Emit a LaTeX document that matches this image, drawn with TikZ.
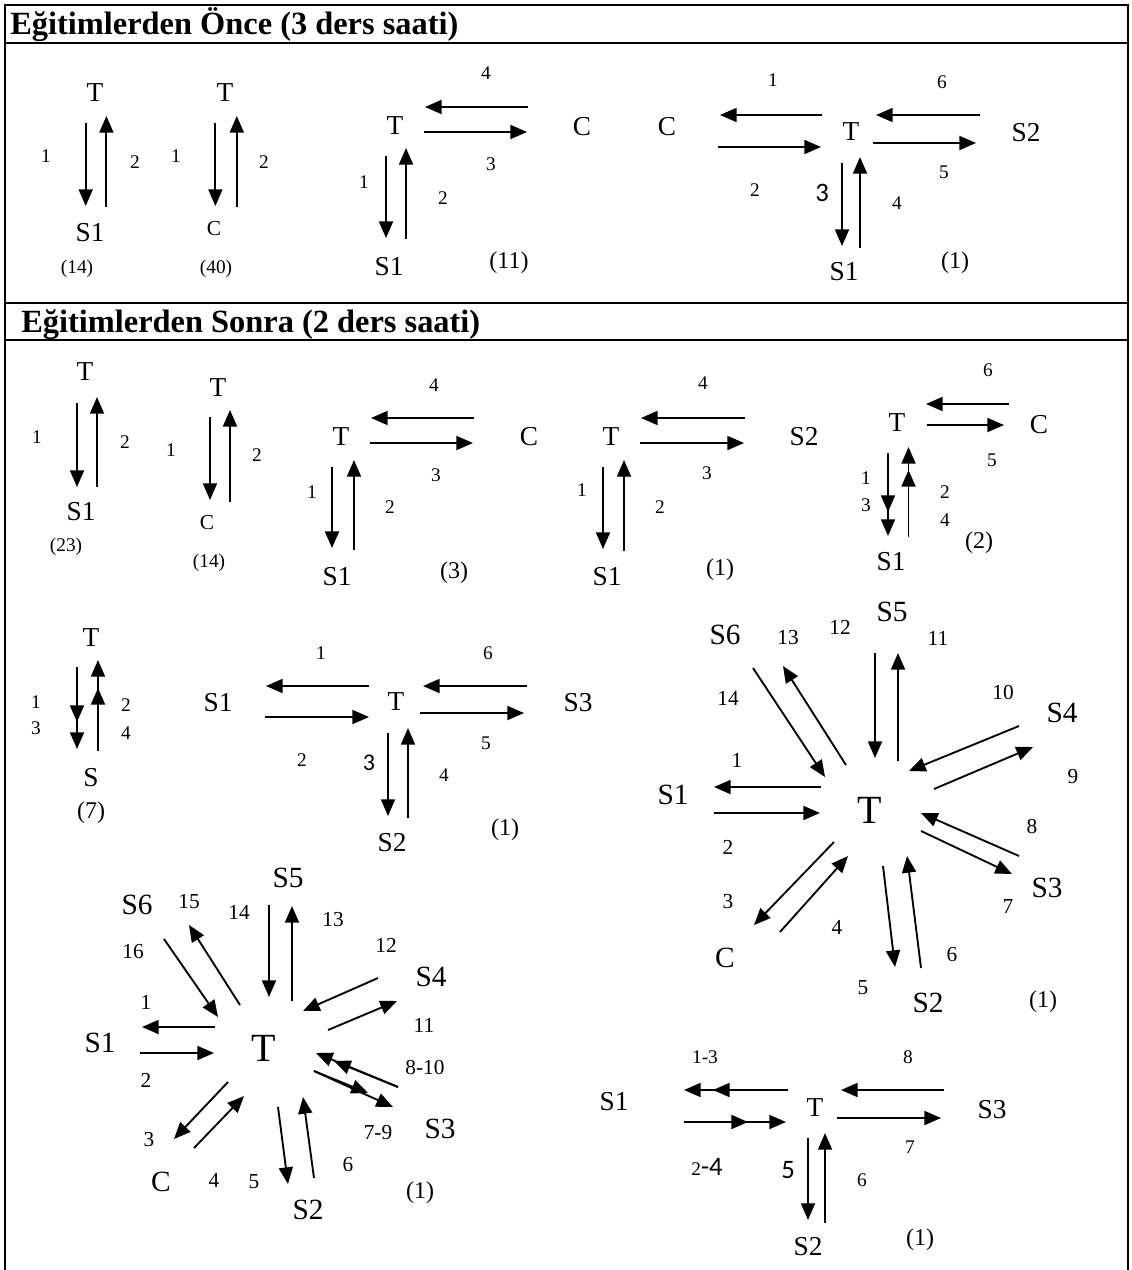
\documentclass[tikz,border=0pt]{standalone}
\usepackage{fontspec}
\setmainfont{Liberation Serif}
\newfontfamily\sansdig{Carlito}
\usetikzlibrary{arrows.meta}
\newcommand\myarr[3]{\coordinate (#1a) at (#2); \coordinate (#1b) at (#3); \draw[arr] (#1a) -- (#1b);}
\newcommand\myarrr[4]{\coordinate (#1a) at (#2); \coordinate (#1m) at (#3); \coordinate (#1b) at (#4); \draw[arr] (#1a) -- (#1m); \draw[arr] (#1a) -- (#1b);}
\begin{document}
\begin{tikzpicture}[x=0.75pt,y=-0.75pt,
  lbl/.style={inner sep=0pt,font=\fontsize{20.5}{20.5}\selectfont},
  slbl/.style={inner sep=0pt,font=\fontsize{22}{22}\selectfont},
  bigT/.style={inner sep=0pt,font=\fontsize{30}{30}\selectfont},
  smallC/.style={inner sep=0pt,font=\fontsize{16}{16}\selectfont},
  num/.style={inner sep=0pt,font=\fontsize{14.5}{14.5}\selectfont},
  snum/.style={inner sep=0pt,font=\fontsize{16}{16}\selectfont},
  cnt/.style={inner sep=0pt,font=\fontsize{14.5}{14.5}\selectfont},
  bcnt/.style={inner sep=0pt,font=\fontsize{18}{18}\selectfont},
  sdig/.style={inner sep=0pt,font=\sansdig\fontsize{20}{20}\selectfont},
  ttl/.style={inner sep=0pt,anchor=base west,font=\bfseries\fontsize{24.3}{24.3}\selectfont},
  arr/.style={-{Triangle[width=10.5pt,length=12.5pt]},line width=1.4pt},
  tbl/.style={line width=1.8pt}]
\useasboundingbox (0,0) rectangle (1131,1270);
% table
\draw[tbl] (5,1270) -- (5,5) -- (1128,5) -- (1128,1270);
\draw[tbl] (5,43) -- (1128,43);
\draw[tbl] (5,303) -- (1128,303);
\draw[tbl] (5,340) -- (1128,340);
\node[ttl] (t1) at (10,35) {Eğitimlerden Önce (3 ders saati)};
\node[ttl] (t2) at (21,332) {Eğitimlerden Sonra (2 ders saati)};

% ===== Section 1 =====
% A
\node[lbl] (aT) at (95,93) {T};
\node[lbl] (aS) at (90,233) {S1};
\node[num] (a1) at (46,156) {1};
\node[num] (a2) at (135,162) {2};
\node[cnt] (ac) at (77,269) {(14)};
\myarr{A1}{85.7,123}{85.7,206}
\myarr{A2}{106.4,207}{106.4,116}
% B
\node[lbl] (bT) at (225,93) {T};
\node[smallC] (bC) at (214,229) {C};
\node[num] (b1) at (176,156) {1};
\node[num] (b2) at (264,162) {2};
\node[cnt] (bc) at (216,269) {(40)};
\myarr{B1}{215.4,123}{215.4,206}
\myarr{B2}{236.8,207}{236.8,116}
% C
\node[lbl] (cT) at (395,126) {T};
\node[lbl] (cC) at (582,127) {C};
\node[num] (c4) at (486,73) {4};
\node[num] (c3) at (491,164) {3};
\node[num] (c1) at (364,182) {1};
\node[num] (c2) at (443,198) {2};
\node[lbl] (cS) at (389,267) {S1};
\node[bcnt] (cc) at (509,263) {(11)};
\myarr{C1}{528,107}{425,107}
\myarr{C2}{424,132}{527,132}
\myarr{C3}{386,156}{386,238}
\myarr{C4}{406,239}{406,148}
% D
\node[lbl] (dC) at (667,127) {C};
\node[num] (d1) at (773,80) {1};
\node[num] (d2) at (755,190) {2};
\node[lbl] (dT) at (851,132) {T};
\node[num] (d6) at (942,82) {6};
\node[num] (d5) at (944,172) {5};
\node[lbl] (dS2) at (1026,133) {S2};
\node[sdig] (d3) at (822,193) {3};
\node[num] (d4) at (897,203) {4};
\node[lbl] (dS1) at (844,272) {S1};
\node[bcnt] (dc) at (955,263) {(1)};
\myarr{D1}{822,115}{720,115}
\myarr{D2}{718,147}{821,147}
\myarr{D3}{842,163}{842,246}
\myarr{D4}{860,248}{860,157}
\myarr{D5}{873,143}{976,143}
\myarr{D6}{980,115}{876,115}

% ===== Section 2 =====
% E
\node[lbl] (eT) at (85,372) {T};
\node[lbl] (eS) at (81,512) {S1};
\node[num] (e1) at (37,437) {1};
\node[num] (e2) at (125,442) {2};
\node[cnt] (ec) at (66,547) {(23)};
\myarr{E1}{77,403}{77,487}
\myarr{E2}{97,487}{97,397}
% F
\node[lbl] (fT) at (218,388) {T};
\node[smallC] (fC) at (207,523) {C};
\node[num] (f1) at (171,450) {1};
\node[num] (f2) at (257,455) {2};
\node[cnt] (fc) at (209,563) {(14)};
\myarr{F1}{210,417}{210,500}
\myarr{F2}{230,502}{230,410}
% G
\node[lbl] (gT) at (341,437) {T};
\node[num] (g4) at (434,385) {4};
\node[num] (g3) at (436,475) {3};
\node[lbl] (gC) at (529,437) {C};
\node[num] (g1) at (312,492) {1};
\node[num] (g2) at (390,507) {2};
\node[lbl] (gS) at (337,577) {S1};
\node[bcnt] (gc) at (454,573) {(3)};
\myarr{G4}{474,418}{371,418}
\myarr{G3}{370,443}{473,443}
\myarr{G1}{332,467}{332,548}
\myarr{G2}{354,550}{354,460}
% H
\node[lbl] (hT) at (611,437) {T};
\node[num] (h4) at (703,383) {4};
\node[num] (h3) at (707,473) {3};
\node[lbl] (hS2) at (804,437) {S2};
\node[num] (h1) at (582,490) {1};
\node[num] (h2) at (660,507) {2};
\node[lbl] (hS1) at (607,577) {S1};
\node[bcnt] (hc) at (720,570) {(1)};
\myarr{H4}{745,418}{641,418}
\myarr{H3}{640,443}{744,443}
\myarr{H1}{603,467}{603,549}
\myarr{H2}{624,551}{624,460}
% I
\node[lbl] (iT) at (897,423) {T};
\node[num] (i6) at (988,370) {6};
\node[lbl] (iC) at (1039,425) {C};
\node[num] (i5) at (992,460) {5};
\node[num] (i1) at (866,478) {1};
\node[num] (i3) at (866,505) {3};
\node[num] (i2) at (945,492) {2};
\node[num] (i4) at (945,520) {4};
\node[lbl] (iS) at (891,562) {S1};
\node[bcnt] (ic) at (979,543) {(2)};
\myarr{I6}{1009,404}{926,404}
\myarr{I5}{927,425}{1004,425}
\myarrr{I13}{888,453}{888,512}{888,536}
\myarrr{I24}{908.5,537}{908.5,470}{908.5,447}
% J
\node[lbl] (jT) at (91,638) {T};
\node[num] (j1) at (36,702) {1};
\node[num] (j3) at (36,728) {3};
\node[num] (j2) at (126,705) {2};
\node[num] (j4) at (126,733) {4};
\node[lbl] (jS) at (91,778) {S};
\node[bcnt] (jc) at (91,813) {(7)};
\myarrr{J13}{77,667}{77,722}{77,749}
\myarrr{J24}{98,751}{98,688}{98,660}
% K
\node[lbl] (kS1) at (218,703) {S1};
\node[num] (k1) at (321,653) {1};
\node[num] (k2) at (302,760) {2};
\node[lbl] (kT) at (396,702) {T};
\node[num] (k6) at (488,653) {6};
\node[num] (k5) at (486,743) {5};
\node[lbl] (kS3) at (578,703) {S3};
\node[sdig,font=\sansdig\fontsize{18}{18}\selectfont] (k3) at (369,763) {3};
\node[num] (k4) at (444,775) {4};
\node[lbl] (kS2) at (392,843) {S2};
\node[bcnt] (kc) at (505,830) {(1)};
\myarr{K1}{369,686}{266,686}
\myarr{K2}{265,717}{369,717}
\myarr{K6}{527,686}{423,686}
\myarr{K5}{420,713}{524,713}
\myarr{K3}{388,733}{388,816}
\myarr{K4}{408,818}{408,728}
% L (star, right)
\node[bigT] (lT) at (870,810) {T};
\node[slbl] (lS5) at (892,612) {S5};
\node[slbl] (lS6) at (725,635) {S6};
\node[snum] (l13) at (788,638) {13};
\node[snum] (l12) at (840,627) {12};
\node[snum] (l11) at (938,638) {11};
\node[snum] (l10) at (1003,693) {10};
\node[slbl] (lS4) at (1062,713) {S4};
\node[snum] (l9) at (1073,777) {9};
\node[snum] (l14) at (728,698) {14};
\node[snum] (l1) at (737,760) {1};
\node[slbl] (lS1) at (673,795) {S1};
\node[snum] (l2) at (728,847) {2};
\node[snum] (l8) at (1032,827) {8};
\node[slbl] (lS3) at (1047,888) {S3};
\node[snum] (l7) at (1008,907) {7};
\node[snum] (l3) at (728,902) {3};
\node[snum] (l4) at (837,927) {4};
\node[slbl] (lC) at (725,958) {C};
\node[snum] (l6) at (952,955) {6};
\node[snum] (l5) at (863,988) {5};
\node[slbl] (lS2) at (928,1003) {S2};
\node[bcnt] (lc) at (1043,1002) {(1)};
\myarr{L14}{753,668}{825,777}
\myarr{L13}{846,765}{783,666}
\myarr{L12}{875,653}{875,758}
\myarr{L11}{898,761}{898,653}
\myarr{L10}{1019,726}{909,771}
\myarr{L9}{934,789}{1033,747}
\myarr{L1}{821,787}{714,787}
\myarr{L2}{714,813}{820,813}
\myarr{L8}{1019,856}{921,813}
\myarr{L7}{921,831}{1012,874}
\myarr{L3}{834,842}{754,925}
\myarr{L4}{780,932}{848,856}
\myarr{L5}{883,866}{895,967}
\myarr{L6}{921,968}{907,856}
% M (star, left)
\node[bigT] (mT) at (264,1048) {T};
\node[slbl] (mS5) at (288,878) {S5};
\node[slbl] (mS6) at (137,905) {S6};
\node[snum] (m15) at (189,902) {15};
\node[snum] (m14) at (239,912) {14};
\node[snum] (m13) at (333,920) {13};
\node[snum] (m12) at (386,945) {12};
\node[snum] (m16) at (133,952) {16};
\node[slbl] (mS4) at (431,977) {S4};
\node[snum] (m11) at (424,1025) {11};
\node[snum] (m1) at (146,1002) {1};
\node[slbl] (mS1) at (100,1043) {S1};
\node[snum] (m2) at (146,1080) {2};
\node[snum] (m810) at (425,1067) {8-10};
\node[snum] (m79) at (378,1133) {7-9};
\node[slbl] (mS3) at (440,1129) {S3};
\node[snum] (m3) at (149,1140) {3};
\node[snum] (m6) at (348,1165) {6};
\node[slbl] (mC) at (161,1182) {C};
\node[snum] (m4) at (214,1180) {4};
\node[snum] (m5) at (254,1182) {5};
\node[bcnt] (mc) at (420,1193) {(1)};
\node[slbl] (mS2) at (308,1210) {S2};
\myarr{M16}{164,939}{218,1017}
\myarr{M15}{240,1005}{189,925}
\myarr{M14}{269,905}{269,997}
\myarr{M13}{292,1001}{292,906}
\myarr{M12}{378,978}{303,1011}
\myarr{M11}{328,1030}{397,1001}
\myarr{M1}{215,1027}{142,1027}
\myarr{M2}{140,1053}{214,1053}
\myarrr{M810}{398,1087}{334,1061}{316,1053}
\myarrr{M79}{314,1071}{368,1093}{393,1107}
\myarr{M3}{228,1082}{174,1139}
\myarr{M4}{194,1148}{244,1096}
\myarr{M5}{278,1107}{288,1184}
\myarr{M6}{314,1178}{303,1097}
% N
\node[lbl] (nS1) at (614,1102) {S1};
\node[num] (n13) at (705,1057) {1-3};
\node[inner sep=0pt] (n24) at (707,1167) {{\fontsize{14.5}{14.5}\selectfont 2}{\sansdig\fontsize{20}{20}\selectfont -4}};
\node[lbl] (nT) at (815,1108) {T};
\node[num] (n8) at (908,1057) {8};
\node[lbl] (nS3) at (992,1110) {S3};
\node[num] (n7) at (910,1147) {7};
\node[sdig] (n5) at (788,1170) {5};
\node[num] (n6) at (862,1180) {6};
\node[lbl] (nS2) at (808,1247) {S2};
\node[bcnt] (nc) at (920,1240) {(1)};
\myarrr{N13}{788,1090}{713,1090}{684,1090}
\myarrr{N24}{684,1122}{748,1122}{786,1122}
\myarr{N8}{944,1090}{841,1090}
\myarr{N7}{837,1118}{941,1118}
\myarr{N5}{808,1138}{808,1220}
\myarr{N6}{825,1223}{825,1133}
\end{tikzpicture}
\end{document}
